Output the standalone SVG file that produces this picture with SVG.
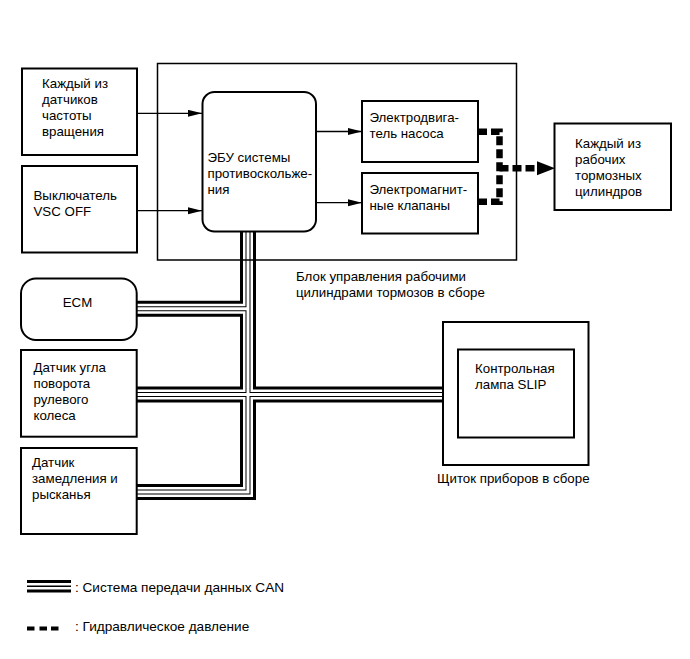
<svg xmlns="http://www.w3.org/2000/svg" width="690" height="659" viewBox="0 0 690 659">
<style>
text{font-family:"Liberation Sans",Arial,sans-serif;font-size:13.3px;fill:#000}
.leg{font-size:13.6px}
.box{fill:#fff;stroke:#000;stroke-width:2}
.frame{fill:none;stroke:#000;stroke-width:1.5}
.arrow{fill:none;stroke:#000;stroke-width:1.3;marker-end:url(#ah)}
.hyd{fill:none;stroke:#000;stroke-width:6.5;stroke-dasharray:9 4;stroke-linejoin:miter}
.c1{fill:none;stroke:#000;stroke-width:16;stroke-linejoin:miter}
.c2{fill:none;stroke:#fff;stroke-width:10;stroke-linejoin:miter}
.c3{fill:none;stroke:#000;stroke-width:5;stroke-linejoin:miter}
.c4{fill:none;stroke:#fff;stroke-width:3;stroke-linejoin:miter}
</style>
<defs>
<marker id="ah" markerUnits="userSpaceOnUse" markerWidth="14" markerHeight="8" refX="14" refY="3.5" orient="auto">
<path d="M0,0 L14,3.5 L0,7 z" fill="#000"/>
</marker>
<path id="canpath" d="M248,231 V492 H137 M248,308.7 H137 M248,394.5 H137 M248,394.5 H443"/>
</defs>
<rect width="690" height="659" fill="#fff"/>

<g id="connectors">
<use href="#canpath" class="c1"/>
<use href="#canpath" class="c2"/>
<use href="#canpath" class="c3"/>
<use href="#canpath" class="c4"/>
<path class="arrow" d="M137,113.3 H202"/>
<path class="arrow" d="M137,210.7 H202"/>
<path class="arrow" d="M316,131.5 H362"/>
<path class="arrow" d="M316,202.7 H362"/>
<path class="hyd" d="M478,131.7 H499.5 V201.7 H478"/>
<path class="hyd" d="M499.5,168.3 H538"/>
<polygon points="537,161.3 555,168.3 537,175.3" fill="#000"/>
</g>

<g id="brake-actuator-assembly">
<rect class="frame" x="157.5" y="63.5" width="359" height="196.5"/>
<text x="296" y="280.5">Блок управления рабочими</text>
<text x="296" y="296.5">цилиндрами тормозов в сборе</text>
</g>

<g id="speed-sensors">
<rect class="box" x="22" y="68.5" width="115" height="86.5"/>
<text x="42" y="87.5">Каждый из</text>
<text x="42" y="103.5">датчиков</text>
<text x="42" y="119.5">частоты</text>
<text x="42" y="135.5">вращения</text>
</g>

<g id="vsc-off-switch">
<rect class="box" x="22" y="166" width="115" height="86.5"/>
<text x="33.5" y="199.5">Выключатель</text>
<text x="33.5" y="215.5">VSC OFF</text>
</g>

<g id="skid-control-ecu">
<rect class="box" x="202.5" y="92" width="113.5" height="139.5" rx="12" ry="12"/>
<text x="207.5" y="161.7">ЭБУ системы</text>
<text x="207.5" y="177.7">противоскольже-</text>
<text x="207.5" y="193.7">ния</text>
</g>

<g id="pump-motor">
<rect class="box" x="362" y="101" width="116" height="61"/>
<text x="369.5" y="121.7">Электродвига-</text>
<text x="369.5" y="137.7">тель насоса</text>
</g>

<g id="solenoid-valves">
<rect class="box" x="362" y="173" width="116" height="60.5"/>
<text x="369.5" y="193.5">Электромагнит-</text>
<text x="369.5" y="209.5">ные клапаны</text>
</g>

<g id="wheel-cylinders">
<rect class="box" x="554.5" y="123.5" width="116.5" height="86.5"/>
<text x="575" y="148.3">Каждый из</text>
<text x="575" y="164.3">рабочих</text>
<text x="575" y="180.3">тормозных</text>
<text x="575" y="196.3">цилиндров</text>
</g>

<g id="ecm">
<rect class="box" x="21" y="278.5" width="115.7" height="61.5" rx="15" ry="15"/>
<text x="77.5" y="307.3" text-anchor="middle">ECM</text>
</g>

<g id="steering-angle-sensor">
<rect class="box" x="21" y="350" width="115.7" height="86.7"/>
<text x="33.5" y="372.3">Датчик угла</text>
<text x="33.5" y="388.3">поворота</text>
<text x="33.5" y="404.3">рулевого</text>
<text x="33.5" y="420.3">колеса</text>
</g>

<g id="yaw-rate-sensor">
<rect class="box" x="21" y="448" width="115.7" height="86"/>
<text x="32" y="466.7">Датчик</text>
<text x="32" y="482.7">замедления и</text>
<text x="32" y="498.7">рысканья</text>
</g>

<g id="combination-meter">
<rect class="box" x="443" y="322" width="145.5" height="143"/>
<rect class="box" x="458" y="349.5" width="116" height="88"/>
<text x="475" y="372.7">Контрольная</text>
<text x="475" y="388.5">лампа SLIP</text>
<text x="437" y="482.5">Щиток приборов в сборе</text>
</g>

<g id="legend">
<rect x="27" y="580" width="44" height="3" fill="#000"/>
<rect x="27" y="585.5" width="44" height="1.5" fill="#000"/>
<rect x="27" y="589.5" width="44" height="3" fill="#000"/>
<text class="leg" x="75" y="592">: Система передачи данных CAN</text>
<rect x="27" y="626.5" width="7.5" height="4" fill="#000"/>
<rect x="39.5" y="626.5" width="7.5" height="4" fill="#000"/>
<rect x="51" y="626.5" width="7.5" height="4" fill="#000"/>
<text class="leg" x="75" y="631">: Гидравлическое давление</text>
</g>
</svg>
